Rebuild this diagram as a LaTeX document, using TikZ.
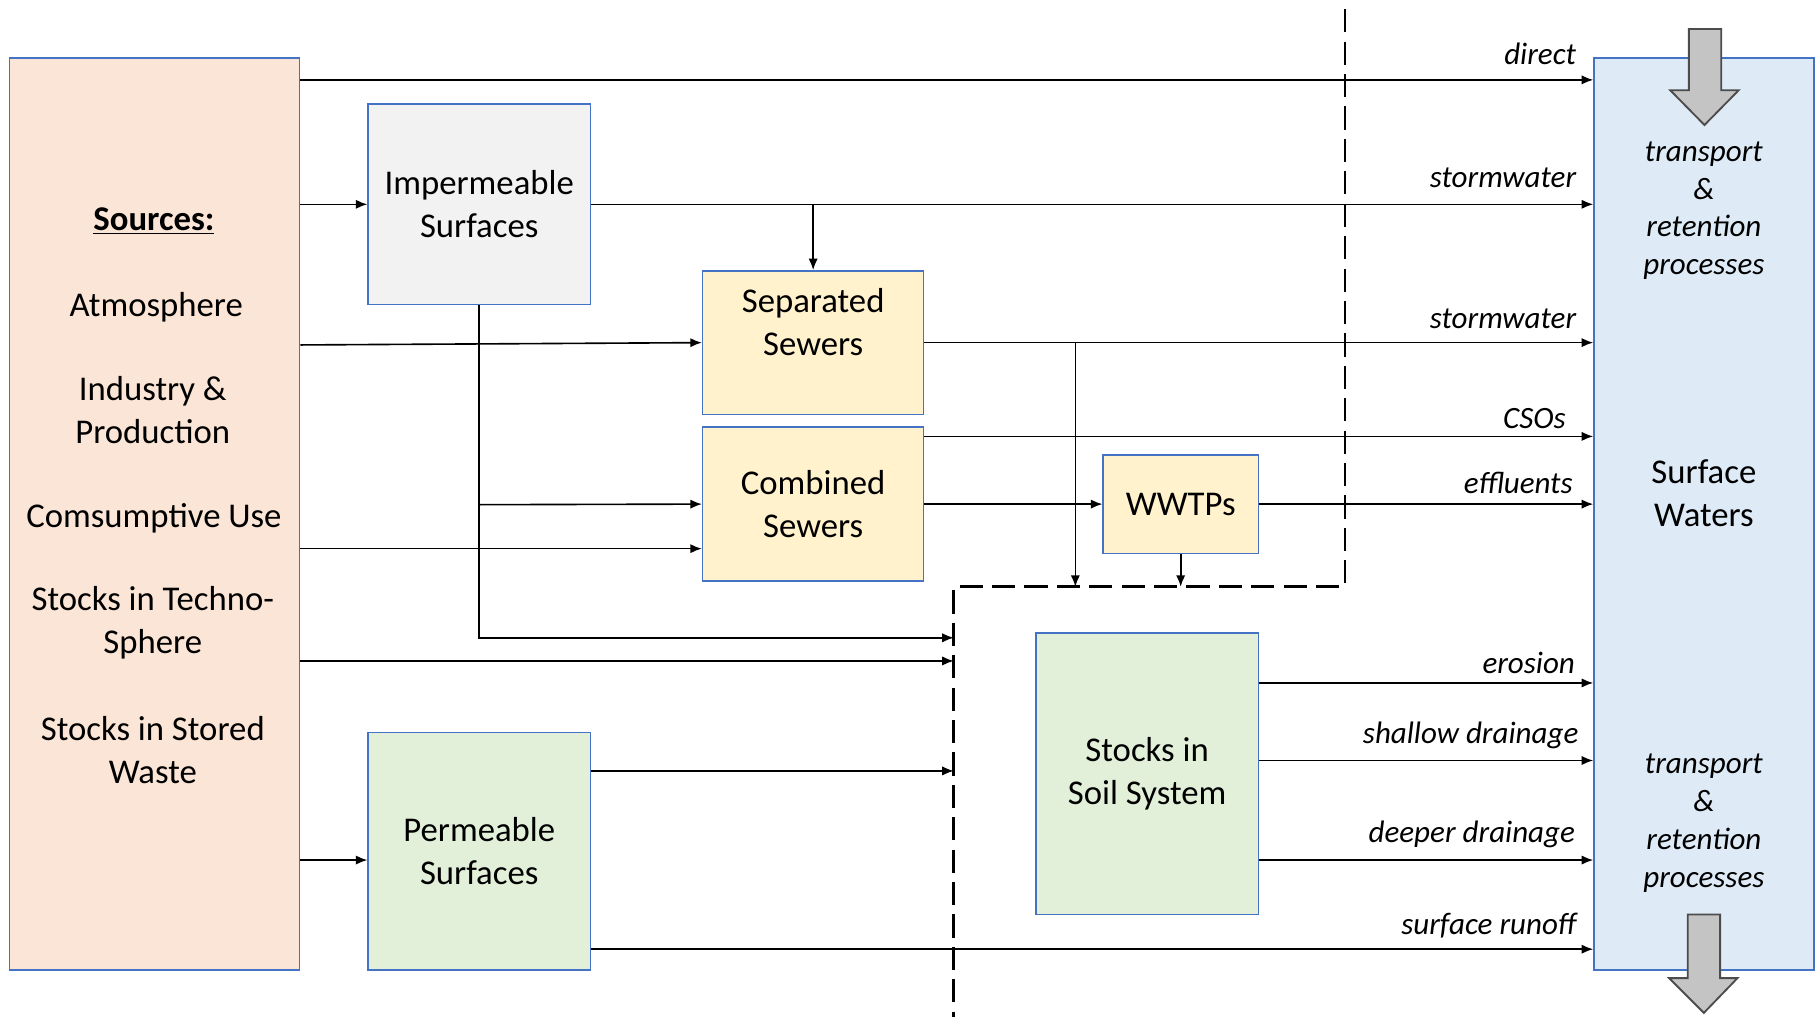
\documentclass[tikz,border=0pt]{standalone}
\usepackage{fontspec}
\setmainfont{Carlito}
\usetikzlibrary{arrows.meta}
\definecolor{bord}{HTML}{4472C4}
\definecolor{peach}{HTML}{FBE5D6}
\definecolor{lgray}{HTML}{F2F2F2}
\definecolor{lyellow}{HTML}{FFF2CC}
\definecolor{lgreen}{HTML}{E2F0D9}
\definecolor{lblue}{HTML}{DEEBF7}
\definecolor{arrgray}{HTML}{C4C4C4}
\begin{document}
\begin{tikzpicture}[x=0.5pt,y=-0.5pt,
 box/.style={draw=bord, line width=0.6pt, inner sep=0pt, align=center, font=\fontsize{15}{18.5}\selectfont},
 txt/.style={inner sep=0pt, align=center, font=\fontsize{15}{18.5}\selectfont},
 itxt/.style={inner sep=0pt, align=center, font=\itshape\fontsize{13.4}{16.4}\selectfont},
 arr/.style={-{Latex[length=5pt,width=4pt]}, line width=0.7pt},
 lab/.style={anchor=base east, font=\itshape\fontsize{13.4}{16}\selectfont, inner sep=0pt},
 boundary/.style={dash pattern=on 10pt off 4pt, line width=1.2pt},
 bigarrow/.style={fill=arrgray, draw=black!70, line width=0.8pt}
]
\useasboundingbox (0,0) rectangle (1568,879);

% boxes
\node[box, fill=peach, minimum width=125.5pt, minimum height=394pt] (src) at (133.5,444) {};
\node[box, fill=lblue, minimum width=95pt, minimum height=394pt] (sw) at (1472,444) {};
\node[box, fill=lgray, minimum width=96pt, minimum height=86.5pt] (imp) at (414,176.5) {Impermeable\\Surfaces};
\node[box, fill=lyellow, minimum width=95.5pt, minimum height=62pt] (sep) at (702.5,296) {};
\node[txt] (septxt) at (702.5,278) {Separated\\Sewers};
\node[box, fill=lyellow, minimum width=95.5pt, minimum height=66.5pt] (comb) at (702.5,435.5) {Combined\\Sewers};
\node[box, fill=lyellow, minimum width=67pt, minimum height=42.5pt] (wwtp) at (1020,435.5) {WWTPs};
\node[box, fill=lgreen, minimum width=96pt, minimum height=121.5pt] (soil) at (991,668.5) {Stocks in\\Soil System};
\node[box, fill=lgreen, minimum width=96pt, minimum height=102.5pt] (perm) at (414,735.5) {Permeable\\Surfaces};

% sources text
\node[txt] (s0) at (133,191) {\underline{\textbf{Sources:}}};
\node[txt] (s1) at (135,265) {Atmosphere};
\node[txt] (s2) at (132,354) {Industry \&\\Production};
\node[txt] (s3) at (133,448) {Comsumptive Use};
\node[txt] (s4) at (132,538) {Stocks in Techno-\\Sphere};
\node[txt] (s5) at (132,648) {Stocks in Stored\\Waste};

% surface waters text
\node[itxt] (tr1) at (1472,182) {transport\\\&\\retention\\processes};
\node[txt] (swt) at (1472,426) {Surface\\Waters};
\node[itxt] (tr2) at (1472,711) {transport\\\&\\retention\\processes};

% block arrows
\draw[bigarrow] (1459,25) -- (1487,25) -- (1487,78) -- (1502,78) -- (1472.5,108) -- (1443,78) -- (1459,78) -- cycle;
\draw[bigarrow] (1458,790) -- (1486,790) -- (1486,845) -- (1501,845) -- (1472,875) -- (1442,845) -- (1458,845) -- cycle;

% dashed boundary
\coordinate (b1) at (1162,8);
\coordinate (b2) at (1162,507);
\coordinate (b3) at (824,507);
\coordinate (b4) at (824,879);
\draw[boundary] (b1) -- (b2) -- (b3) -- (b4);

% connectors
\draw[arr] (src.east |- 0,69) -- (sw.west |- 0,69);
\node[lab] (l1) at (1362,56) {direct};
\draw[arr] (src.east |- imp.west) -- (imp.west);
\draw[arr] (imp.east) -- (sw.west |- imp.east);
\node[lab] (l2) at (1362,162) {stormwater};
\draw[arr] (sep.north |- imp.east) -- (sep.north);
\draw[arr] (src.east |- 0,298) -- (sep.west);
\draw[arr] (sep.east) -- (sw.west |- sep.east);
\node[lab] (l3) at (1362,284) {stormwater};
\draw[arr] (929,296) -- (929,507);
\draw[arr] (imp.south) -- (414,551) -- (b3 |- 0,551);
\draw[arr] (414,436) -- (comb.west);
\draw[arr] (src.east |- 0,474) -- (comb.west |- 0,474);
\draw[arr] (comb.east |- 0,377) -- (sw.west |- 0,377);
\node[lab] (l4) at (1353,370) {CSOs};
\draw[arr] (comb.east) -- (wwtp.west);
\draw[arr] (wwtp.east) -- (sw.west |- wwtp.east);
\node[lab] (l5) at (1359,426) {effluents};
\draw[arr] (wwtp.south) -- (wwtp.south |- b3);
\draw[arr] (src.east |- 0,571) -- (b3 |- 0,571);
\draw[arr] (perm.east |- 0,666) -- (b3 |- 0,666);
\draw[arr] (src.east |- 0,743) -- (perm.west |- 0,743);
\draw[arr] (perm.east |- 0,820) -- (sw.west |- 0,820);
\node[lab] (l9) at (1362,807) {surface runoff};
\draw[arr] (soil.east |- 0,590) -- (sw.west |- 0,590);
\node[lab] (l6) at (1361,582) {erosion};
\draw[arr] (soil.east |- 0,657) -- (sw.west |- 0,657);
\node[lab] (l7) at (1364,642) {shallow drainage};
\draw[arr] (soil.east |- 0,743) -- (sw.west |- 0,743);
\node[lab] (l8) at (1361,728) {deeper drainage};
\end{tikzpicture}
\end{document}
